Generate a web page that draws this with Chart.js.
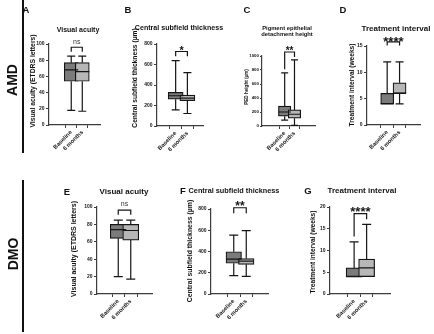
<!DOCTYPE html>
<html>
<head>
<meta charset="utf-8">
<script src="https://cdn.jsdelivr.net/npm/chart.js@4.4.1/dist/chart.umd.min.js"></script>
<style>
  body { margin: 0; width: 434px; height: 334px; position: relative; overflow: hidden; background: #fff;
         font-family: "Liberation Sans", Arial, sans-serif; color: #000; }
  canvas { position: absolute; }
  #labels { position: absolute; left: 0; top: 0; width: 434px; height: 334px; will-change: transform; }
  .t { position: absolute; font-weight: bold; white-space: nowrap; line-height: 1; color: #111;
       transform: translate(-50%, -50%); }
  .r { transform: translate(-50%, -50%) rotate(-90deg); }
  .bar { position: absolute; width: 2px; background: #111; }
</style>
</head>
<body>
<div id="labels">
<div class="bar" style="left:21.7px;top:0;height:153px"></div>
<div class="bar" style="left:21.7px;top:180px;height:152px"></div>
<div class="t r" style="left:12px;top:80px;font-size:14px">AMD</div>
<div class="t r" style="left:13px;top:254px;font-size:14px">DMO</div>

<div class="t" style="left:26px;top:10px;font-size:9.5px">A</div>
<div class="t" style="left:128px;top:10px;font-size:9.5px">B</div>
<div class="t" style="left:247px;top:10px;font-size:9.5px">C</div>
<div class="t" style="left:343px;top:10px;font-size:9.5px">D</div>
<div class="t" style="left:67px;top:192px;font-size:9.5px">E</div>
<div class="t" style="left:183px;top:191px;font-size:9.5px">F</div>
<div class="t" style="left:308px;top:191px;font-size:9.5px">G</div>

<div class="t" style="left:78px;top:29px;font-size:7px">Visual acuity</div>
<div class="t" style="left:179px;top:29px;font-size:7.1px">Central subfield thickness</div>
<div class="t" style="left:287px;top:28.5px;font-size:5.8px">Pigment epithelial</div>
<div class="t" style="left:287px;top:35px;font-size:5.8px">detachment height</div>
<div class="t" style="left:396px;top:29px;font-size:8px">Treatment interval</div>
<div class="t" style="left:124px;top:192px;font-size:8px">Visual acuity</div>
<div class="t" style="left:234px;top:191px;font-size:7.3px">Central subfield thickness</div>
<div class="t" style="left:362px;top:191px;font-size:8px">Treatment interval</div>

<div class="t r" style="left:33px;top:81px;font-size:6.8px">Visual acuity (ETDRS letters)</div>
<div class="t r" style="left:135px;top:78px;font-size:6.7px">Central subfield thickness (µm)</div>
<div class="t r" style="left:246.5px;top:87px;font-size:4.6px">PED height (µm)</div>
<div class="t r" style="left:352px;top:85px;font-size:6.6px">Treatment interval (weeks)</div>
<div class="t r" style="left:73px;top:249px;font-size:7px">Visual acuity (ETDRS letters)</div>
<div class="t r" style="left:190px;top:251px;font-size:6.9px">Central subfield thickness (µm)</div>
<div class="t r" style="left:313px;top:252px;font-size:6.6px">Treatment interval (weeks)</div>
</div>

<canvas id="a"></canvas>
<canvas id="b"></canvas>
<canvas id="c"></canvas>
<canvas id="d"></canvas>
<canvas id="e"></canvas>
<canvas id="f"></canvas>
<canvas id="g"></canvas>

<script>
// categories
var groups = ["Baseline", "6 months"];

// box plot values, one row per group: [min, q1, median, q3, max]
var vaAmd = [[18, 54, 68, 77, 85], [17, 54, 66, 77, 85]];
var cstAmd = [[158, 262, 295, 328, 638], [122, 248, 272, 302, 520]];
var pedAmd = [[85, 140, 200, 285, 760], [10, 112, 168, 230, 945]];
var intervalAmd = [[4, 4, 4, 6, 12], [4, 6, 6, 8, 12]];
var vaDmo = [[20, 64, 74, 80, 85], [17, 62, 73, 80, 85]];
var cstDmo = [[173, 289, 329, 398, 555], [166, 279, 310, 333, 596]];
var intervalDmo = [[4, 4, 4, 6, 12], [4, 4, 6, 8, 16]];

// significance labels
var sigAmd = ["ns", "*", "**", "****"];
var sigDmo = ["ns", "**", "****"];

var ink = "#151515";
var axisColor = "#3c3c3c";
var fills = ["#7b7b7b", "#b7b7b7"];
var fontFamily = '"Liberation Sans", Arial, sans-serif';
Chart.defaults.font.family = fontFamily;

var yw = 16, pt = 16, xh = 36, pr = 2;

// whiskers, caps and median line, placed with the chart's scales
var boxParts = {
  id: "boxParts",
  afterDatasetsDraw: function (chart) {
    var o = chart.options.plugins.boxParts;
    var x = chart.scales.x, y = chart.scales.y, ctx = chart.ctx;
    ctx.save();
    ctx.strokeStyle = ink;
    ctx.lineWidth = 1.2;
    o.stats.forEach(function (s, i) {
      var cx = x.getPixelForValue(i);
      var hc = o.cap / 2, hb = o.box / 2;
      ctx.beginPath();
      if (s[0] < s[1]) {
        ctx.moveTo(cx, y.getPixelForValue(s[1]));
        ctx.lineTo(cx, y.getPixelForValue(s[0]));
        ctx.moveTo(cx - hc, y.getPixelForValue(s[0]));
        ctx.lineTo(cx + hc, y.getPixelForValue(s[0]));
      }
      if (s[4] > s[3]) {
        ctx.moveTo(cx, y.getPixelForValue(s[3]));
        ctx.lineTo(cx, y.getPixelForValue(s[4]));
        ctx.moveTo(cx - hc, y.getPixelForValue(s[4]));
        ctx.lineTo(cx + hc, y.getPixelForValue(s[4]));
      }
      ctx.moveTo(cx - hb, y.getPixelForValue(s[2]));
      ctx.lineTo(cx + hb, y.getPixelForValue(s[2]));
      ctx.stroke();
    });
    ctx.restore();
  }
};

// comparison bracket with its label
var bracket = {
  id: "bracket",
  afterDraw: function (chart) {
    var g = chart.options.plugins.bracket;
    var x = chart.scales.x, y = chart.scales.y, ctx = chart.ctx;
    var x0 = x.getPixelForValue(0), x1 = x.getPixelForValue(1);
    var yb = y.getPixelForValue(g.at);
    ctx.save();
    ctx.strokeStyle = ink;
    ctx.lineWidth = 1.2;
    ctx.beginPath();
    ctx.moveTo(x0, y.getPixelForValue(g.legs[0]));
    ctx.lineTo(x0, yb);
    ctx.lineTo(x1, yb);
    ctx.lineTo(x1, y.getPixelForValue(g.legs[1]));
    ctx.stroke();
    var stars = g.text.charAt(0) === "*";
    ctx.fillStyle = stars ? ink : "#333";
    ctx.font = (stars ? "bold " : "") + g.size + "px " + fontFamily;
    ctx.textAlign = "center";
    ctx.textBaseline = "alphabetic";
    var mid = yb - g.gap;
    ctx.fillText(g.text, (x0 + x1) / 2, mid + (stars ? 0.58 : 0.26) * g.size);
    ctx.restore();
  }
};

function boxPanel(id, stats, p) {
  var canvas = document.getElementById(id);
  var left = p.L - yw, top = p.T - pt;
  var tf = p.tf || 5, tl = p.tl || 3;
  canvas.width = p.R - left + pr;
  canvas.height = p.B - top + xh;
  canvas.style.left = left + "px";
  canvas.style.top = top + "px";
  return new Chart(canvas, {
    type: "bar",
    data: {
      datasets: [{
        data: stats.map(function (s, i) { return { x: i, y: [s[1], s[3]] }; }),
        backgroundColor: fills,
        borderColor: ink,
        borderWidth: 1.2,
        borderSkipped: false,
        barThickness: p.box
      }]
    },
    options: {
      responsive: false,
      animation: false,
      events: [],
      layout: { padding: { top: pt, right: pr, left: 0, bottom: 0 } },
      plugins: {
        legend: { display: false },
        tooltip: { enabled: false },
        boxParts: { stats: stats, cap: p.cap, box: p.box },
        bracket: p.sig
      },
      scales: {
        x: {
          type: "linear",
          min: p.xmin,
          max: p.xmax,
          afterBuildTicks: function (s) { s.ticks = [{ value: 0 }, { value: 1 }]; },
          afterFit: function (s) { s.height = xh; s.paddingLeft = 0; s.paddingRight = 0; },
          grid: { display: true, drawOnChartArea: false, drawTicks: true, tickLength: 3, color: axisColor, lineWidth: 1 },
          border: { color: axisColor, width: 1.2 },
          ticks: {
            minRotation: 45, maxRotation: 45, padding: 1, color: ink,
            font: { size: 5.8, weight: "bold" },
            callback: function (v) { return groups[v]; }
          }
        },
        y: {
          min: 0,
          max: p.ymax,
          afterFit: function (s) { s.width = yw; s.paddingTop = 0; s.paddingBottom = 0; },
          grid: { display: true, drawOnChartArea: false, drawTicks: true, tickLength: tl, color: axisColor, lineWidth: 1 },
          border: { color: axisColor, width: 1.2 },
          ticks: {
            stepSize: p.step, padding: tl < 3 ? 1 : 1.5, color: ink, font: { size: tf, weight: "bold" },
            callback: function (v) { return String(v); }
          }
        }
      }
    },
    plugins: [boxParts, bracket]
  });
}

boxPanel("a", vaAmd, { L: 49, R: 100, T: 44, B: 125, xmin: -0.86, xmax: 1.45, ymax: 100, step: 20, box: 14, cap: 8,
  sig: { text: sigAmd[0], at: 96, legs: [90.5, 90.5], size: 7, gap: 5.5 } });
boxPanel("b", cstAmd, { L: 157, R: 203, T: 44, B: 126, xmin: -0.61, xmax: 1.35, ymax: 800, step: 200, box: 15, cap: 8,
  sig: { text: sigAmd[1], at: 727, legs: [680, 680], size: 11, gap: 4 } });
boxPanel("c", pedAmd, { L: 262, R: 315, T: 56, B: 126, xmin: -0.96, xmax: 1.74, ymax: 1000, step: 200, box: 12.5, cap: 7,
  tf: 4.4, tl: 2,
  sig: { text: sigAmd[2], at: 1057, legs: [810, 985], size: 10, gap: 4 } });
boxPanel("d", intervalAmd, { L: 367, R: 420, T: 46, B: 125, xmin: -0.56, xmax: 1.58, ymax: 15, step: 5, box: 13, cap: 8,
  sig: { text: sigAmd[3], at: 15.8, legs: [15.1, 15.1], size: 13, gap: 3 } });
boxPanel("e", vaDmo, { L: 97, R: 152, T: 207, B: 294, xmin: -0.6, xmax: 1.6, ymax: 100, step: 20, box: 16, cap: 9,
  sig: { text: sigDmo[0], at: 96.5, legs: [91, 91], size: 7, gap: 6 } });
boxPanel("f", cstDmo, { L: 211, R: 268, T: 209, B: 294, xmin: -0.68, xmax: 1.6, ymax: 800, step: 200, box: 15.5, cap: 9,
  sig: { text: sigDmo[1], at: 812, legs: [760, 760], size: 12, gap: 5 } });
boxPanel("g", intervalDmo, { L: 330, R: 390, T: 207, B: 294, xmin: -0.73, xmax: 1.67, ymax: 20, step: 5, box: 16, cap: 9,
  sig: { text: sigDmo[2], at: 18.5, legs: [13.2, 17.2], size: 13, gap: 5 } });
</script>
</body>
</html>
